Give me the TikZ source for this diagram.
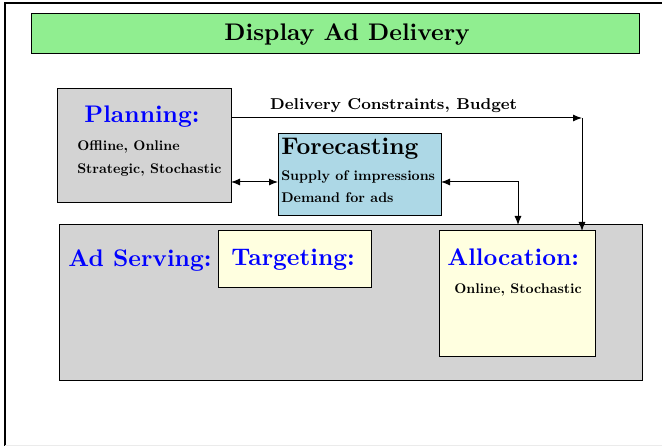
\documentclass[tikz,border=0pt]{standalone}
\usetikzlibrary{arrows.meta}
\definecolor{titlegreen}{RGB}{144,238,144}
\definecolor{panelgray}{RGB}{211,211,211}
\definecolor{forecastblue}{RGB}{173,216,230}
\definecolor{modulecream}{RGB}{255,255,224}
\begin{document}
\begin{tikzpicture}[x=1pt,y=-1pt,
  box/.style={draw=black, line width=1pt, inner sep=0pt, outer sep=0pt},
  bigtext/.style={font=\normalsize\bfseries, scale=2.4, inner sep=0pt, anchor=base west},
  heading/.style={bigtext, text=blue},
  smalltext/.style={font=\normalsize\bfseries, scale=1.4, inner sep=0pt, anchor=base west},
  tip/.tip={Latex[length=9pt,width=7pt]},
  link/.style={line width=1pt, -tip},
  duplex/.style={line width=1pt, tip-tip}]
  \clip (0,0) rectangle (662,446);
  % page frame
  \draw[line width=1.1pt] (5,3) rectangle (680,460);
  \draw[black!8, line width=0.8pt] (5,445) -- (662,445);

  % title bar
  \node[box, fill=titlegreen, minimum width=608pt, minimum height=40pt] (title) at (335,34) {};
  \node[bigtext] (titletext) at (224,41) {Display Ad Delivery};

  % planning
  \node[box, fill=panelgray, minimum width=174pt, minimum height=114pt] (plan) at (144,146) {};
  \node[heading] (plantitle) at (84,123) {Planning:};
  \node[smalltext] (plan1) at (77,151) {Offline, Online};
  \node[smalltext] (plan2) at (77,174) {Strategic, Stochastic};

  % forecasting
  \node[box, fill=forecastblue, minimum width=163pt, minimum height=82pt] (fore) at (359.5,175) {};
  \node[bigtext] (foretitle) at (281,155) {Forecasting};
  \node[smalltext] (fore1) at (281,181) {Supply of impressions};
  \node[smalltext] (fore2) at (281,203) {Demand for ads};

  % ad serving
  \node[box, fill=panelgray, minimum width=583pt, minimum height=156pt] (serve) at (350.5,303) {};
  \node[heading] (servetitle) at (68,267) {Ad Serving:};
  \node[box, fill=modulecream, minimum width=153pt, minimum height=57pt] (target) at (294.5,259.5) {};
  \node[heading] (targettitle) at (231,266) {Targeting:};
  \node[box, fill=modulecream, minimum width=156pt, minimum height=126pt] (alloc) at (517,294) {};
  \node[heading] (alloctitle) at (447,266) {Allocation:};
  \node[smalltext] (alloc1) at (454,294) {Online, Stochastic};

  % connectors
  \coordinate (turn) at (582,118);
  \coordinate (pf) at (0,182);
  \coordinate (drop) at (518,0);
  \node[inner sep=0pt, anchor=base west] (budget) at (270,110)
    {\resizebox{247pt}{!}{\footnotesize\bfseries Delivery Constraints, Budget}};
  \draw[link] (plan.east |- turn) -- (turn);
  \draw[link] (turn) -- (alloc.north -| turn);
  \draw[duplex] (plan.east |- pf) -- (fore.west |- pf);
  \draw[duplex] (fore.east |- pf) -| (serve.north -| drop);
\end{tikzpicture}
\end{document}
